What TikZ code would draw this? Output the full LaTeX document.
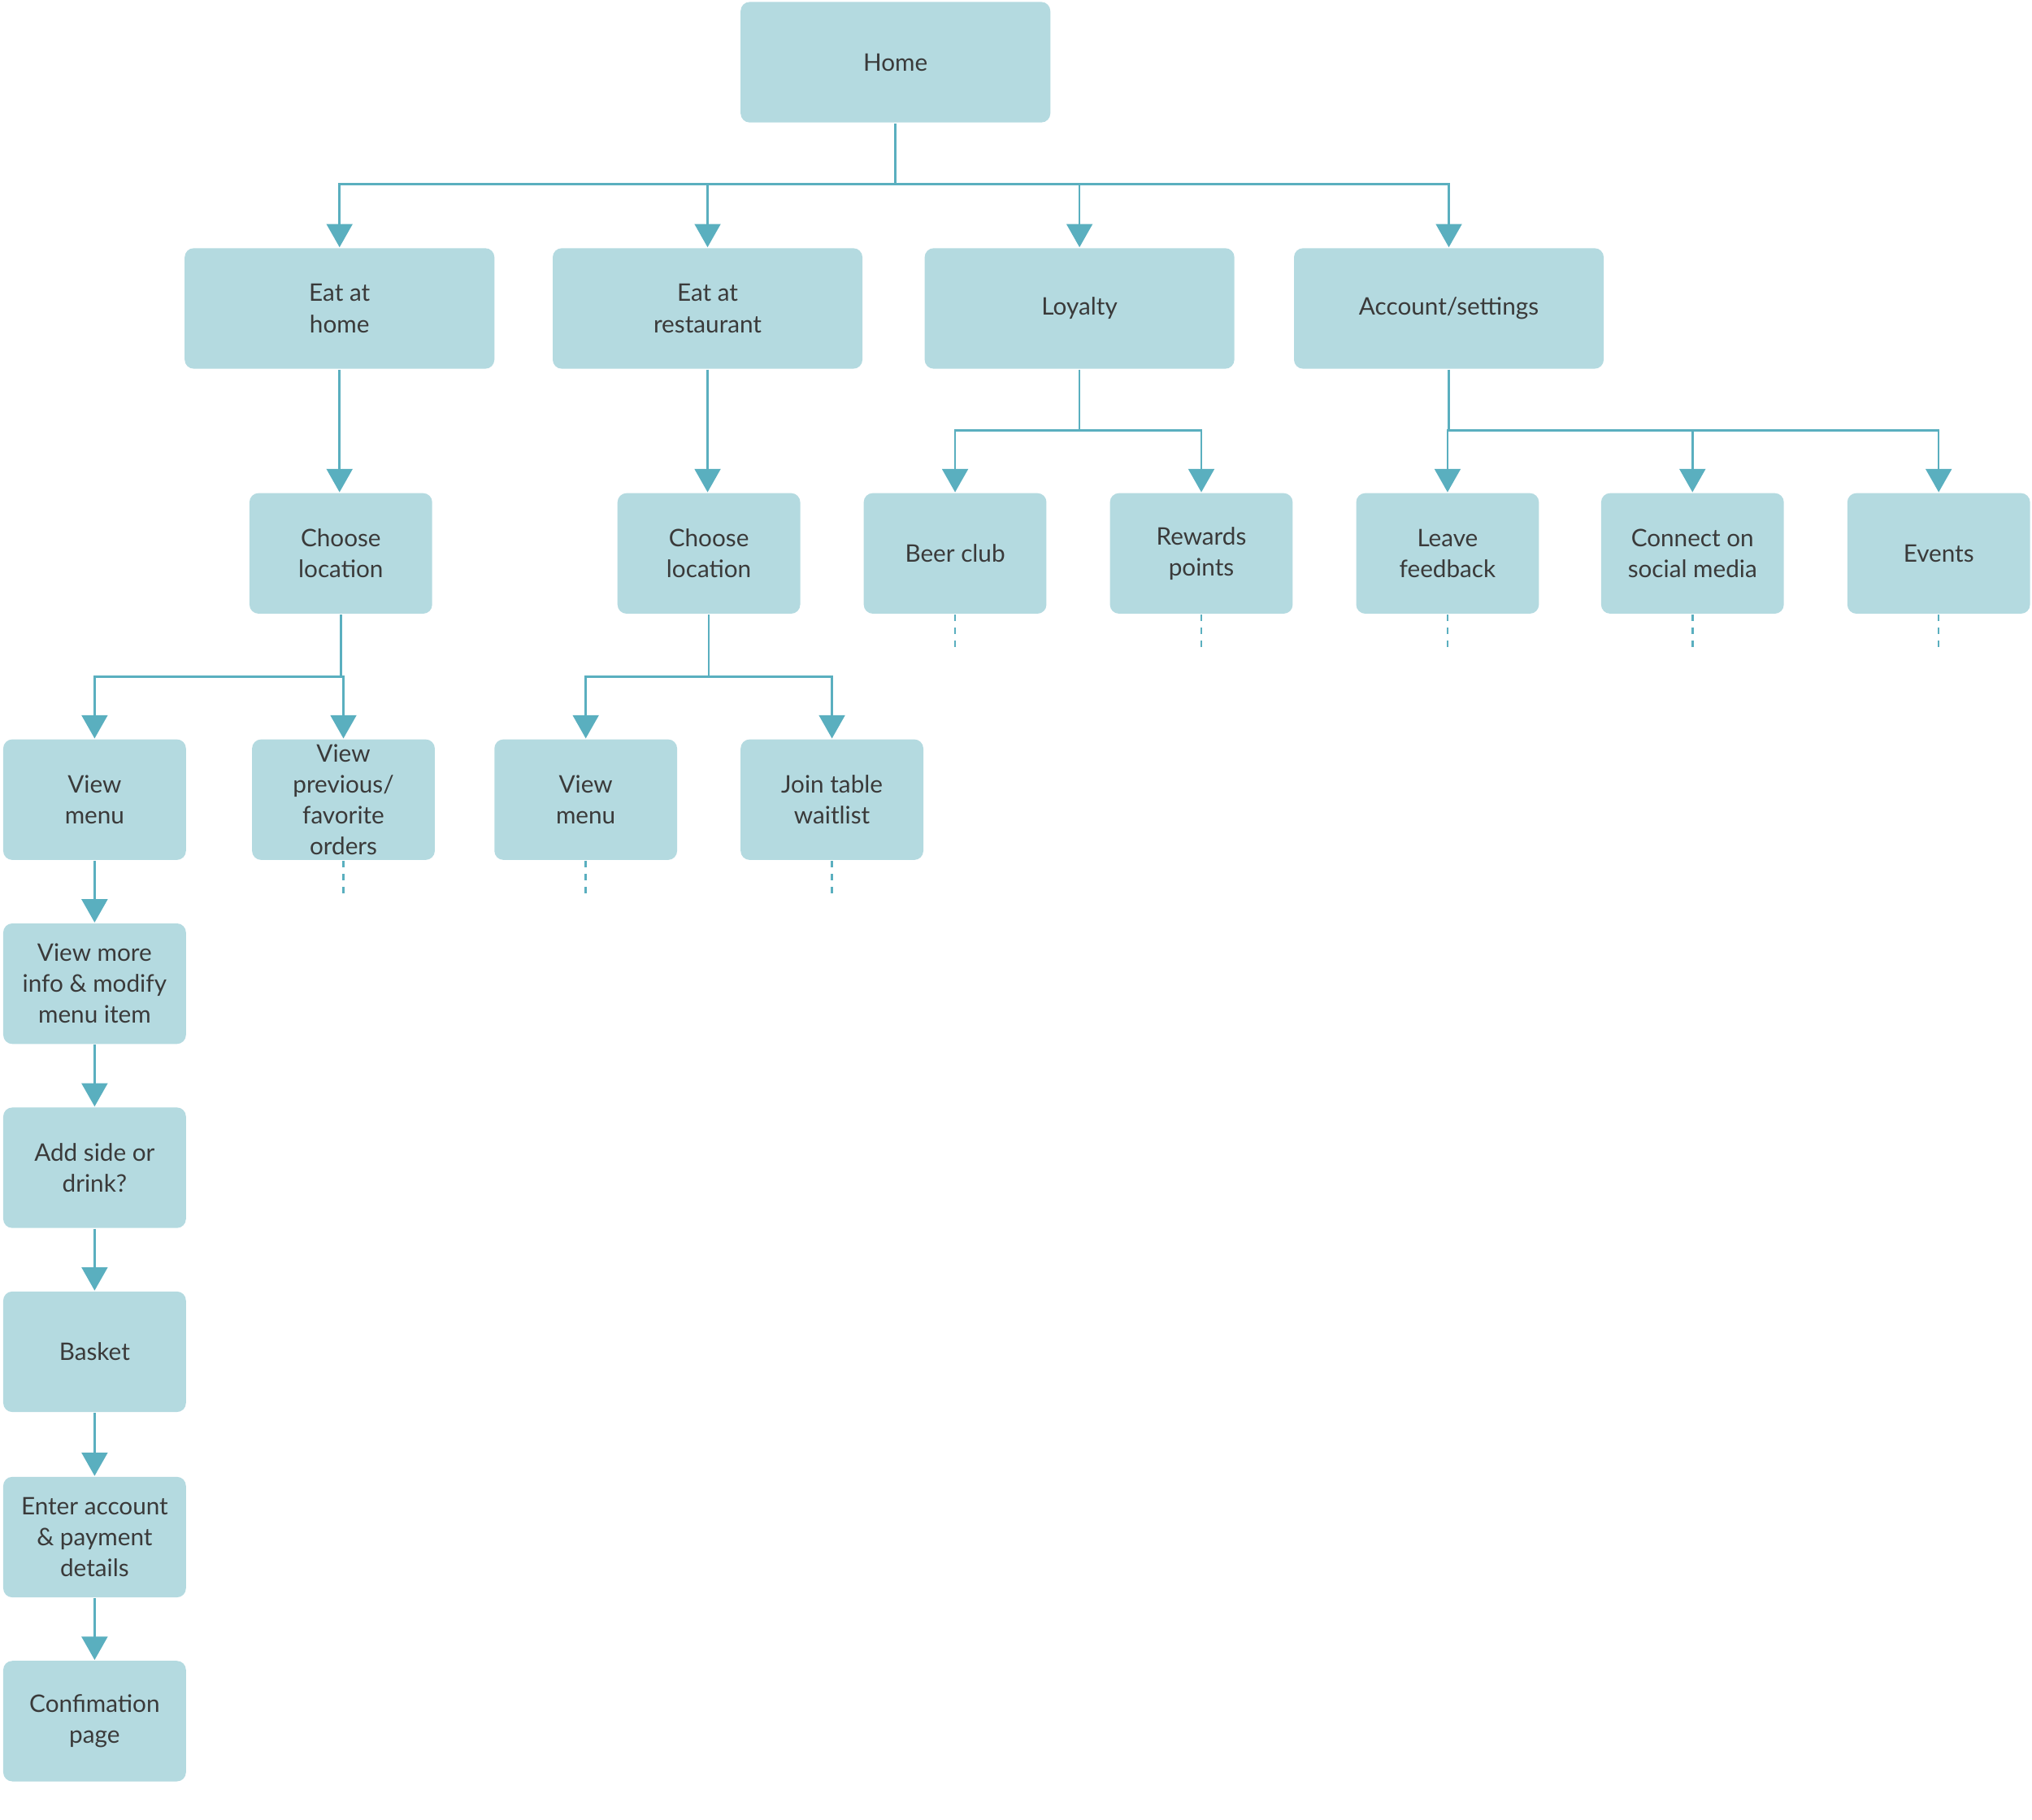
\documentclass[tikz,border=0pt]{standalone}
\usepackage{fontspec}
\setmainfont{Lato}
\usetikzlibrary{arrows.meta}
\definecolor{boxc}{HTML}{B4DAE0}
\definecolor{linec}{HTML}{5AAFBF}
\definecolor{txt}{HTML}{3A3A3A}
\tikzset{
 box/.style={rectangle, rounded corners=0.7mm, fill=boxc, minimum height=9.3mm, align=center, text=txt, font=\fontsize{5.3pt}{6.8pt}\selectfont, inner sep=0pt},
 big/.style={box, minimum width=23.9mm},
 small/.style={box, minimum width=14.1mm},
 arr/.style={draw=linec, line width=0.45pt, -{Triangle[width=2mm,length=1.8mm]}},
 ln/.style={draw=linec, line width=0.45pt},
 stub/.style={draw=linec, line width=0.45pt, dash pattern=on 0.5mm off 0.5mm},
}
\begin{document}
\begin{tikzpicture}[x=0.1mm,y=-0.1mm]
\useasboundingbox (0,0) rectangle (1568,1404);
\node[big] (home) at (691,48) {Home};
\node[big] (eah) at (262,238) {Eat at\\home};
\node[big] (ear) at (546,238) {Eat at\\restaurant};
\node[big] (loy) at (833,238) {Loyalty};
\node[big] (acc) at (1118,238) {Account/settings};
\node[small] (cl1) at (263,427) {Choose\\location};
\node[small] (cl2) at (547,427) {Choose\\location};
\node[small] (beer) at (737,427) {Beer club};
\node[small] (rew) at (927,427) {Rewards\\points};
\node[small] (fb) at (1117,427) {Leave\\feedback};
\node[small] (soc) at (1306,427) {Connect on\\social media};
\node[small] (ev) at (1496,427) {Events};
\node[small] (vm1) at (73,617) {View\\menu};
\node[small] (vp) at (265,617) {View\\previous/\\favorite\\orders};
\node[small] (vm2) at (452,617) {View\\menu};
\node[small] (jt) at (642,617) {Join table\\waitlist};
\node[small] (vmi) at (73,759) {View more\\info \& modify\\menu item};
\node[small] (side) at (73,901) {Add side or\\drink?};
\node[small] (bask) at (73,1043) {Basket};
\node[small] (pay) at (73,1186) {Enter account\\\& payment\\details};
\node[small] (conf) at (73,1328) {Confimation\\page};
\coordinate (b1) at (0,142);
\coordinate (b2) at (0,332);
\coordinate (b3) at (0,522);
\draw[ln] (home.south) -- (home.south |- b1);
\draw[arr] (home.south |- b1) -| (eah.north);
\draw[arr] (home.south |- b1) -| (ear.north);
\draw[arr] (home.south |- b1) -| (loy.north);
\draw[arr] (home.south |- b1) -| (acc.north);
\draw[arr] (eah.south) -- (eah.south |- cl1.north);
\draw[arr] (ear.south) -- (ear.south |- cl2.north);
\draw[ln] (loy.south) -- (loy.south |- b2);
\draw[arr] (loy.south |- b2) -| (beer.north);
\draw[arr] (loy.south |- b2) -| (rew.north);
\draw[ln] (acc.south) -- (acc.south |- b2);
\draw[arr] (acc.south |- b2) -| (fb.north);
\draw[arr] (acc.south |- b2) -| (soc.north);
\draw[arr] (acc.south |- b2) -| (ev.north);
\draw[ln] (cl1.south) -- (cl1.south |- b3);
\draw[arr] (cl1.south |- b3) -| (vm1.north);
\draw[arr] (cl1.south |- b3) -| (vp.north);
\draw[ln] (cl2.south) -- (cl2.south |- b3);
\draw[arr] (cl2.south |- b3) -| (vm2.north);
\draw[arr] (cl2.south |- b3) -| (jt.north);
\draw[arr] (vm1) -- (vmi);
\draw[arr] (vmi) -- (side);
\draw[arr] (side) -- (bask);
\draw[arr] (bask) -- (pay);
\draw[arr] (pay) -- (conf);
\foreach \n in {beer,rew,fb,soc,ev,vp,vm2,jt}{\draw[stub] (\n.south) -- ++(0,26);}
\end{tikzpicture}
\end{document}
